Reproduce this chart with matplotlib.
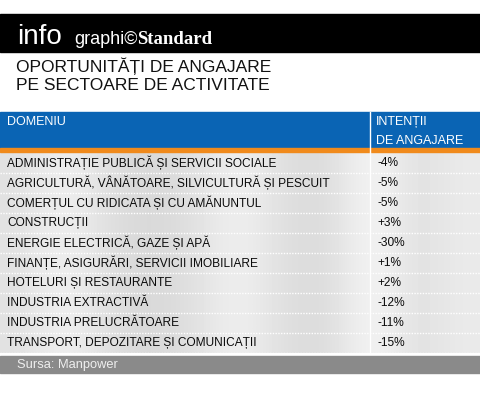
import matplotlib
matplotlib.use("Agg")
import matplotlib.pyplot as plt
import numpy as np
from matplotlib.patches import Rectangle

domains = ["ADMINISTRAȚIE PUBLICĂ ȘI SERVICII SOCIALE",
           "AGRICULTURĂ, VÂNĂTOARE, SILVICULTURĂ ȘI PESCUIT",
           "COMERȚUL CU RIDICATA ȘI CU AMĂNUNTUL",
           "CONSTRUCȚII",
           "ENERGIE ELECTRICĂ, GAZE ȘI APĂ",
           "FINANȚE, ASIGURĂRI, SERVICII IMOBILIARE",
           "HOTELURI ȘI RESTAURANTE",
           "INDUSTRIA EXTRACTIVĂ",
           "INDUSTRIA PRELUCRĂTOARE",
           "TRANSPORT, DEPOZITARE ȘI COMUNICAȚII"]
values = ["-4%", "-5%", "-5%", "+3%", "-30%", "+1%", "+2%", "-12%", "-11%", "-15%"]

W, H = 480, 400
fig = plt.figure(figsize=(4.8, 4.0), dpi=100)
ax = fig.add_axes([0, 0, 1, 1])
ax.set_xlim(0, W); ax.set_ylim(H, 0); ax.axis("off")
FONT = "Liberation Sans"

# black header
ax.add_patch(Rectangle((0, 14), W, 38, color="black"))
ax.text(17, 44, "info", color="white", fontsize=20, family=FONT, va="baseline")
ax.text(74, 44, "graphi©", color="white", fontsize=13, family=FONT, va="baseline")
ax.text(137, 44, "Standard", color="white", fontsize=13.5, family="Liberation Serif",
        weight="bold", va="baseline")
ax.text(16, 66, "OPORTUNITĂȚI DE ANGAJARE", color="#111111", fontsize=12.5, family=FONT, va="center")
ax.text(16, 86, "PE SECTOARE DE ACTIVITATE", color="#111111", fontsize=12.5, family=FONT, va="center")

# blue header
ax.add_patch(Rectangle((0, 112), W, 37, color="#0a64b4"))
ax.add_patch(Rectangle((0, 148), W, 4, color="#f08a1c"))
ax.plot([370, 370], [112, 152], color="white", lw=1)
ax.text(7, 122, "DOMENIU", color="white", fontsize=9, family=FONT, va="center")
ax.text(376, 122, "INTENȚII", color="white", fontsize=9, family=FONT, va="center")
ax.text(376, 141, "DE ANGAJARE", color="white", fontsize=9, family=FONT, va="center")

# rows with silver gradient
grad = np.array([[0.88, 0.95, 0.87, 0.84, 0.88, 0.95, 0.87, 0.85, 0.98, 0.87, 0.92]])
y0, rh = 153, 20
n = len(domains)
ax.imshow(grad, cmap="gray", vmin=0, vmax=1, extent=(0, W, y0 + n * rh, y0),
          aspect="auto", interpolation="bicubic", zorder=0)
for i, (d, v) in enumerate(zip(domains, values)):
    yc = y0 + i * rh + rh / 2
    ax.text(7, yc, d, fontsize=8.6, family=FONT, color="#0a0a0a", va="center")
    ax.text(377, yc, v, fontsize=8.6, family=FONT, color="#0a0a0a", va="center")
    ax.plot([0, W], [y0 + (i + 1) * rh, y0 + (i + 1) * rh], color="white", lw=1, ls=(0, (1, 1)))
ax.plot([370, 370], [y0, y0 + n * rh], color="white", lw=1)

# footer
ax.add_patch(Rectangle((0, y0 + n * rh + 3), W, 17, color="#8a8a8a"))
ax.text(17, y0 + n * rh + 12, "Sursa: Manpower", color="#eeeeee", fontsize=9.3, family=FONT, va="center")

fig.savefig("out.png", dpi=100)
